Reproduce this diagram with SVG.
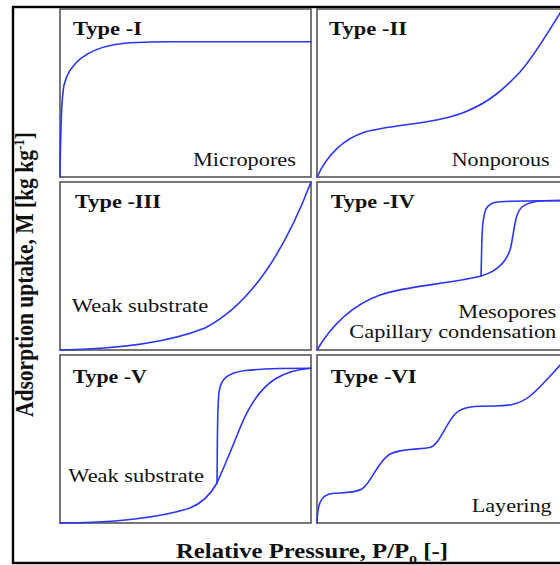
<svg xmlns="http://www.w3.org/2000/svg" width="560" height="565" viewBox="0 0 560 565">
  <style>
    .frame { fill: none; stroke: #000; stroke-width: 2.4; }
    .panel { fill: #fff; stroke: #555; stroke-width: 1.6; }
    .curve { fill: none; stroke: #2b35f5; stroke-width: 1.6; stroke-linecap: round; stroke-linejoin: round; }
    .title { font-family: "Liberation Serif", "Times New Roman", serif; font-weight: bold; font-size: 19px; fill: #111; }
    .note { font-family: "Liberation Serif", "Times New Roman", serif; font-size: 19.5px; fill: #111; }
    .axis { font-family: "Liberation Serif", "Times New Roman", serif; font-weight: bold; font-size: 21.5px; fill: #111; }
  </style>

  <rect width="560" height="565" fill="#fff"/>

  <!-- outer frame, open to the right -->
  <rect class="frame" x="13" y="7" width="570" height="556"/>

  <!-- Type I -->
  <g id="type-1">
    <rect class="panel" x="60" y="9" width="251" height="168"/>
    <path class="curve" d="M60,177 C60.5,130 61,100 64,85 C70,60 90,49 115,44.5 C130,42 145,41.7 170,41.7 L311,41.7"/>
    <text class="title" x="73" y="35" textLength="69" lengthAdjust="spacingAndGlyphs">Type -I</text>
    <text class="note" x="193" y="165.5" textLength="103" lengthAdjust="spacingAndGlyphs">Micropores</text>
  </g>

  <!-- Type II -->
  <g id="type-2">
    <rect class="panel" x="317" y="9" width="260" height="168"/>
    <path class="curve" d="M317,177 C325,160 340,140 365,132 C395,124 435,124 465,112 C490,102 505,88 520,72 C535,55 548,32 562,10"/>
    <text class="title" x="329" y="35" textLength="78" lengthAdjust="spacingAndGlyphs">Type -II</text>
    <text class="note" x="451.7" y="165.5" textLength="98" lengthAdjust="spacingAndGlyphs">Nonporous</text>
  </g>

  <!-- Type III -->
  <g id="type-3">
    <rect class="panel" x="60" y="182" width="251" height="168"/>
    <path class="curve" d="M60,350 C120,349 170,342 205,328 C250,305 285,250 311,182"/>
    <text class="title" x="75" y="207.5" textLength="86" lengthAdjust="spacingAndGlyphs">Type -III</text>
    <text class="note" x="71.7" y="311.5" textLength="136.5" lengthAdjust="spacingAndGlyphs">Weak substrate</text>
  </g>

  <!-- Type IV -->
  <g id="type-4">
    <rect class="panel" x="317" y="182" width="260" height="168"/>
    <path class="curve" d="M317,350 C330,328 350,306 380,295 C410,285 450,284 481,276"/>
    <path class="curve" d="M481,276 C482,250 481,220 486,209 C490,202 497,201.5 510,201.3 L565,200.5"/>
    <path class="curve" d="M481,276 C495,272 505,265 510,250 C514,236 514,214 522,207 C528,202 535,201 545,200.8 L565,200.5"/>
    <text class="title" x="330.7" y="207.5" textLength="84" lengthAdjust="spacingAndGlyphs">Type -IV</text>
    <text class="note" x="458.3" y="318.3" textLength="98" lengthAdjust="spacingAndGlyphs">Mesopores</text>
    <text class="note" x="349.3" y="338.3" textLength="207" lengthAdjust="spacingAndGlyphs">Capillary condensation</text>
  </g>

  <!-- Type V -->
  <g id="type-5">
    <rect class="panel" x="60" y="355" width="251" height="168"/>
    <path class="curve" d="M60,523 C110,523 160,518 190,508 C205,502 212,492 217,483"/>
    <path class="curve" d="M217,483 C217.5,450 217,410 219,392 C221,378 228,373 245,370.5 C265,368.5 290,368.3 311,368.3"/>
    <path class="curve" d="M217,483 C225,465 232,448 240,428 C248,408 258,390 275,379 C288,371 300,369 311,368.3"/>
    <text class="title" x="72.7" y="382.5" textLength="74" lengthAdjust="spacingAndGlyphs">Type -V</text>
    <text class="note" x="68.3" y="481.7" textLength="135.7" lengthAdjust="spacingAndGlyphs">Weak substrate</text>
  </g>

  <!-- Type VI -->
  <g id="type-6">
    <rect class="panel" x="317" y="355" width="260" height="168"/>
    <path class="curve" d="M317,523 C317.5,505 320,495 332,493.5 C345,492.5 355,493 362,489 C372,482 377,462 390,454 C400,448.5 420,449.5 430,447.5 C440,444 445,425 455,414 C463,406 475,406 495,406 C510,406 520,404 530,396 C540,388 550,376 563,362"/>
    <text class="title" x="330.7" y="382.5" textLength="86" lengthAdjust="spacingAndGlyphs">Type -VI</text>
    <text class="note" x="471.7" y="511.7" textLength="80" lengthAdjust="spacingAndGlyphs">Layering</text>
  </g>

  <!-- axis titles -->
  <g id="x-axis-title" transform="translate(176,558) scale(1.15,1)">
    <text class="axis" x="0" y="0">Relative Pressure, P/P<tspan font-size="14" dy="5">o</tspan><tspan dy="-5"> [-]</tspan></text>
  </g>
  <g id="y-axis-title" transform="translate(33,0) scale(1.14,1) rotate(-90)">
    <text class="axis" x="-417" y="0">Adsorption uptake, M [kg kg<tspan font-size="13" dy="-8">-1</tspan><tspan dy="8">]</tspan></text>
  </g>
</svg>
